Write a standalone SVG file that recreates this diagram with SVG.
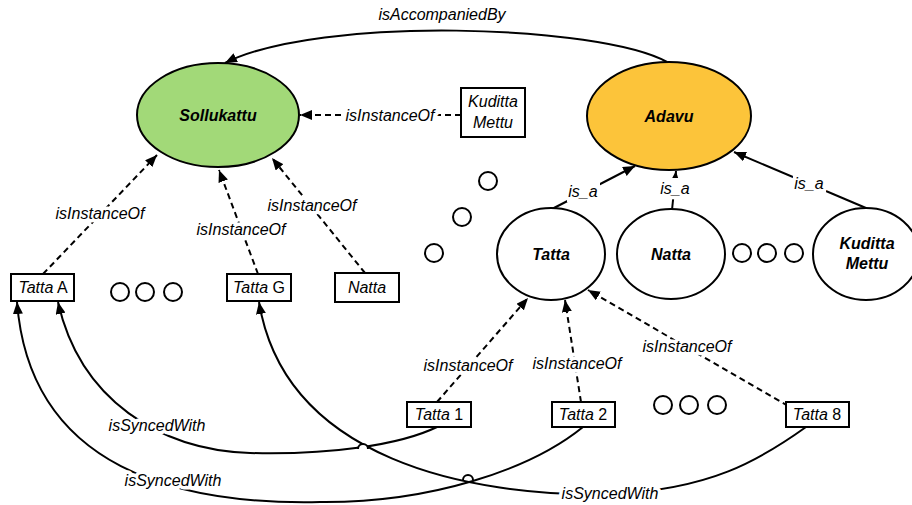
<svg xmlns="http://www.w3.org/2000/svg" width="912" height="505" viewBox="0 0 912 505">
<defs>
<marker id="arr" viewBox="0 0 12 10" refX="12" refY="5" markerWidth="12" markerHeight="10" markerUnits="userSpaceOnUse" orient="auto"><path d="M0,0 L12,5 L0,10 z" fill="#000"/></marker>
<style>
text{font-family:"Liberation Sans",Arial,sans-serif;font-size:16px;fill:#000}
.nl{font-weight:bold;font-style:italic;text-anchor:middle}
.bl{text-anchor:middle}
.it{font-style:italic}
.lbl{font-style:italic;text-anchor:middle;stroke:#fff;stroke-width:7;paint-order:stroke;stroke-linejoin:round}
.bg{fill:#fff;stroke:none}
.node{stroke:#000;stroke-width:2}
.box{fill:#fff;stroke:#000;stroke-width:2}
.dot{fill:#fff;stroke:#000;stroke-width:2}
.solid{fill:none;stroke:#000;stroke-width:2}
.dash{fill:none;stroke:#000;stroke-width:2;stroke-dasharray:6,4}
</style>
</defs>
<rect width="912" height="505" fill="#fff"/>
<g id="connectors">
<path class="solid" d="M667,62 C600,25 320,15 225,63" marker-end="url(#arr)"/>
<path class="dash" d="M461,115 L300,115" marker-end="url(#arr)"/>
<path class="dash" d="M43,274 L157,155" marker-end="url(#arr)"/>
<path class="dash" d="M258,274 L219,170" marker-end="url(#arr)"/>
<path class="dash" d="M365,273 L272,158" marker-end="url(#arr)"/>
<path class="dash" d="M437,402 L528,298" marker-end="url(#arr)"/>
<path class="dash" d="M581,402 L565,300" marker-end="url(#arr)"/>
<path class="dash" d="M788,406 L588,290" marker-end="url(#arr)"/>
<path class="solid" d="M552,209 L635,166" marker-end="url(#arr)"/>
<path class="solid" d="M672,210 L676,171" marker-end="url(#arr)"/>
<path class="solid" d="M866,208 L734,152" marker-end="url(#arr)"/>
<path class="solid" d="M437,427 C400,445 330,455 250,453 C160,450 80,400 58,302" marker-end="url(#arr)"/>
<path class="solid" d="M583,427 C530,470 430,503 320,502 C180,505 30,470 17,302" marker-end="url(#arr)"/>
<path class="solid" d="M806,427 C760,460 710,490 610,494 C470,497 285,460 259,302" marker-end="url(#arr)"/>
<path d="M358,449 a5,5 0 0 1 10,0" fill="#fff" stroke="#000" stroke-width="2"/>
<path d="M463,480 a5,5 0 0 1 10,0" fill="#fff" stroke="#000" stroke-width="2"/>
<rect class="bg" x="567" y="181" width="33" height="21"/>
<rect class="bg" x="659" y="178" width="33" height="21"/>
<rect class="bg" x="793" y="173" width="33" height="21"/>
<text class="lbl" x="442" y="20">isAccompaniedBy</text>
<text class="lbl" x="390" y="121">isInstanceOf</text>
<text class="lbl" x="100" y="219">isInstanceOf</text>
<text class="lbl" x="241" y="235">isInstanceOf</text>
<text class="lbl" x="312" y="211">isInstanceOf</text>
<text class="lbl" x="468" y="371">isInstanceOf</text>
<text class="lbl" x="577" y="369">isInstanceOf</text>
<text class="lbl" x="687" y="352">isInstanceOf</text>
<text class="lbl" x="583" y="197">is_a</text>
<text class="lbl" x="675" y="194">is_a</text>
<text class="lbl" x="809" y="189">is_a</text>
<text class="lbl" x="157" y="431">isSyncedWith</text>
<text class="lbl" x="173" y="486">isSyncedWith</text>
<text class="lbl" x="610" y="499">isSyncedWith</text>
</g>
<g id="sollukattu"><ellipse class="node" cx="218" cy="115" rx="81" ry="52" fill="#a2d978"/><text class="nl" x="218" y="121">Sollukattu</text></g>
<g id="adavu"><ellipse class="node" cx="669" cy="116" rx="82" ry="54" fill="#fcc43a"/><text class="nl" x="669" y="122">Adavu</text></g>
<g id="tatta"><ellipse class="node" cx="551" cy="254" rx="54" ry="46" fill="#fff"/><text class="nl" x="551" y="260">Tatta</text></g>
<g id="natta"><ellipse class="node" cx="671" cy="254" rx="54" ry="45" fill="#fff"/><text class="nl" x="671" y="260">Natta</text></g>
<g id="kuditta-mettu"><ellipse class="node" cx="866" cy="254" rx="53" ry="46" fill="#fff"/><text class="nl" x="867" y="249">Kuditta</text><text class="nl" x="867" y="269">Mettu</text></g>
<g id="kuditta-mettu-box"><rect class="box" x="461" y="88" width="64" height="49"/><text class="bl it" x="493" y="107">Kuditta</text><text class="bl it" x="493" y="128">Mettu</text></g>
<g id="tatta-a"><rect class="box" x="11" y="274" width="63" height="27"/><text class="bl" x="43" y="293"><tspan class="it">Tatta</tspan> A</text></g>
<g id="tatta-g"><rect class="box" x="227" y="274" width="64" height="27"/><text class="bl" x="259" y="293"><tspan class="it">Tatta</tspan> G</text></g>
<g id="natta-box"><rect class="box" x="335" y="273" width="64" height="29"/><text class="bl it" x="367" y="293">Natta</text></g>
<g id="tatta-1"><rect class="box" x="407" y="402" width="64" height="25"/><text class="bl" x="439" y="420"><tspan class="it">Tatta</tspan> 1</text></g>
<g id="tatta-2"><rect class="box" x="552" y="402" width="63" height="25"/><text class="bl" x="583" y="420"><tspan class="it">Tatta</tspan> 2</text></g>
<g id="tatta-8"><rect class="box" x="786" y="402" width="63" height="25"/><text class="bl" x="817" y="420"><tspan class="it">Tatta</tspan> 8</text></g>
<g id="dots">
<circle class="dot" cx="120" cy="292" r="9"/><circle class="dot" cx="145" cy="292" r="9"/><circle class="dot" cx="173" cy="292" r="9"/>
<circle class="dot" cx="488" cy="181" r="9"/><circle class="dot" cx="462" cy="217" r="9"/><circle class="dot" cx="434" cy="253" r="9"/>
<circle class="dot" cx="742" cy="253" r="9"/><circle class="dot" cx="767" cy="253" r="9"/><circle class="dot" cx="794" cy="253" r="9"/>
<circle class="dot" cx="663" cy="405" r="9"/><circle class="dot" cx="689" cy="405" r="9"/><circle class="dot" cx="717" cy="405" r="9"/>
</g>
</svg>
